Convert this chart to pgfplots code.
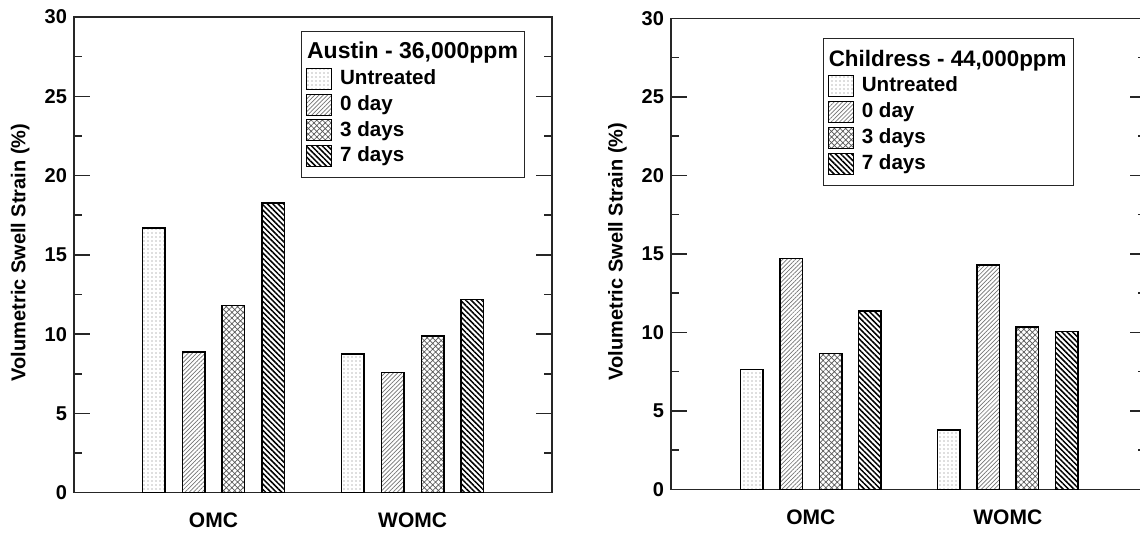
\documentclass[border=0pt]{standalone}
\usepackage{fontspec}
\setmainfont{Liberation Sans}
\usepackage{pgfplots}
\pgfplotsset{compat=1.18}
\usetikzlibrary{patterns.meta}

\pgfplotsset{
  swellaxis/.style={
    scale only axis, anchor=south west,
    ymin=0, ymax=30,
    xtick={0,1}, xticklabels={OMC,WOMC},
    x tick style={draw=none},
    ytick={0,5,...,30}, minor y tick num=1,
    tick align=inside, ytick pos=both, xtick pos=bottom,
    major tick length=8pt, minor tick length=4pt,
    axis line style={line width=0.75pt, black!85},
    every tick/.style={line width=0.75pt, black!85},
    /pgf/number format/assume math mode=true,
    yticklabel style={font=\fontsize{10}{12}\selectfont\bfseries},
    xticklabel style={font=\fontsize{10.5}{12}\selectfont\bfseries, yshift=-6.5pt},
    ylabel={Volumetric Swell Strain (\%)},
    legend cell align=left,
    legend image code/.code={\draw[##1, line width=0.5pt] (0pt,-5.25pt) rectangle (12.5pt,5.25pt);},
  },
  swelllegend/.style={
    legend style={draw=black!85, line width=0.5pt, anchor=north west,
      font=\fontsize{10.3}{12}\selectfont\bfseries, inner xsep=2.4pt, inner ysep=4.35pt,
      row sep=0pt, column sep=2.8pt,
      nodes={inner sep=1.1pt, text height=8.2pt, text depth=2.5pt}},
  },
  pU/.style={ybar, bar shift=0pt, bar width=11.25pt, draw=black, line width=0.75pt,
    pattern={Dots[distance=2pt,radius=0.3pt]}, pattern color=black!55},
  p0/.style={ybar, bar shift=0pt, bar width=11.25pt, draw=black, line width=0.75pt,
    pattern={Lines[angle=45,distance=1.5pt,line width=0.35pt]}, pattern color=black!55},
  p3/.style={ybar, bar shift=0pt, bar width=11.25pt, draw=black, line width=0.75pt,
    pattern={Hatch[angle=45,distance=2pt,line width=0.35pt]}, pattern color=black!65},
  p7/.style={ybar, bar shift=0pt, bar width=11.25pt, draw=black, line width=0.75pt,
    pattern={Lines[angle=-45,distance=1.9pt,line width=0.75pt]}, pattern color=black},
}

\begin{document}
\begin{tikzpicture}
\useasboundingbox (0,0) rectangle (570pt,266.5pt);

% ---------- left: Austin ----------
\begin{axis}[swellaxis, swelllegend,
  at={(37pt,20.15pt)}, width=239pt, height=237.85pt,
  xmin=-0.7, xmax=1.7,
  ylabel style={at={(axis description cs:-0.078,0.505)}, anchor=south,
    font=\fontsize{10}{12}\selectfont\bfseries},
  legend style={at={(0.4749,0.9706)}},
]
\addlegendimage{empty legend}
\addlegendentry{\hspace*{-16.5pt}\fontsize{11.5}{13}\selectfont Austin - 36,000ppm}
\addplot[pU] coordinates {(-0.3,16.68) (0.7,8.76)};
\addlegendentry{Untreated}
\addplot[p0] coordinates {(-0.1,8.88) (0.9,7.59)};
\addlegendentry{0 day}
\addplot[p3] coordinates {(0.1,11.80) (1.1,9.88)};
\addlegendentry{3 days}
\addplot[p7] coordinates {(0.3,18.27) (1.3,12.17)};
\addlegendentry{7 days}
\end{axis}

% ---------- right: Childress ----------
\begin{axis}[swellaxis, swelllegend,
  at={(335.5pt,21.75pt)}, width=237.3pt, height=235.6pt,
  xmin=-0.71, xmax=1.7,
  ylabel style={at={(axis description cs:-0.0784,0.505)}, anchor=south,
    font=\fontsize{10}{12}\selectfont\bfseries},
  legend style={at={(0.3196,0.9576)}},
]
\addlegendimage{empty legend}
\addlegendentry{\hspace*{-16.5pt}\fontsize{11.2}{13}\selectfont Childress - 44,000ppm}
\addplot[pU] coordinates {(-0.3,7.65) (0.7,3.79)};
\addlegendentry{Untreated}
\addplot[p0] coordinates {(-0.1,14.72) (0.9,14.29)};
\addlegendentry{0 day}
\addplot[p3] coordinates {(0.1,8.65) (1.1,10.35)};
\addlegendentry{3 days}
\addplot[p7] coordinates {(0.3,11.35) (1.3,10.07)};
\addlegendentry{7 days}
\end{axis}
\end{tikzpicture}
\end{document}
